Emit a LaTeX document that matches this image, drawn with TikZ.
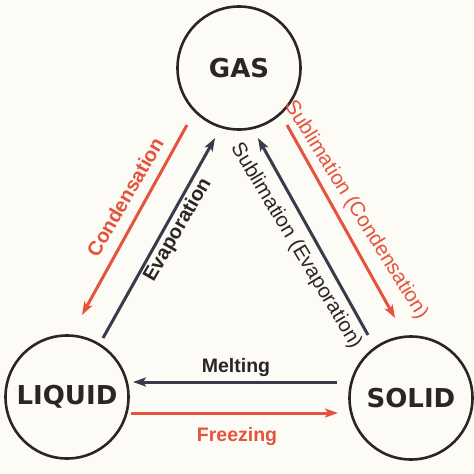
\documentclass[tikz,border=0pt]{standalone}
\usepackage{fontspec}
\setmainfont{Liberation Sans}
\newfontfamily\statefont{DejaVu Sans}
\usetikzlibrary{arrows.meta}
\definecolor{redarrow}{HTML}{E5533C}
\definecolor{darkarrow}{HTML}{3A3A48}
\definecolor{ink}{HTML}{2B2626}
\definecolor{paper}{HTML}{FCFBF6}
\begin{document}
\begin{tikzpicture}[x=1pt,y=-1pt,
  state/.style={circle, draw=ink, line width=2.6pt, minimum size=123pt, inner sep=0pt,
    font=\statefont\bfseries\fontsize{26}{30}\selectfont, text=ink},
  redarr/.style={draw=redarrow, line width=3pt, -{Stealth[length=13pt,width=9pt,inset=3pt]}},
  darkarr/.style={draw=darkarrow, line width=3pt, -{Stealth[length=13pt,width=9pt,inset=3pt]}},
  lbl/.style={font=\fontsize{20.5}{24}\selectfont, inner sep=0pt},
  lblmid/.style={font=\bfseries\fontsize{20}{24}\selectfont, inner sep=0pt},
  lblbold/.style={font=\bfseries\fontsize{19.5}{23}\selectfont, inner sep=0pt},
]
\fill[paper] (0,0) rectangle (474,474);
\useasboundingbox (0,0) rectangle (474,474);

\node[state] (gas) at (239,68) {GAS};
\node[state] (liquid) at (67,397) {LIQUID};
\node[state] (solid) at (411,398) {SOLID};

\coordinate (evapS) at (103,338);
\coordinate (evapE) at (215,138);
\coordinate (condS) at (187,125);
\coordinate (condE) at (82,315);
\coordinate (subES) at (368,335);
\coordinate (subEE) at (258,138);
\coordinate (subCS) at (287,125);
\coordinate (subCE) at (395,318);
\coordinate (meltS) at (337,382);
\coordinate (meltE) at (133,382);
\coordinate (frzS) at (131,413);
\coordinate (frzE) at (338,413);

\draw[darkarr] (evapS) -- (evapE);
\draw[redarr] (condS) -- (condE);
\draw[darkarr] (subES) -- (subEE);
\draw[redarr] (subCS) -- (subCE);
\draw[darkarr] (meltS) -- (meltE);
\draw[redarr] (frzS) -- (frzE);

\node[lblmid, text=redarrow, rotate=60] (condlbl) at (125,197) {Condensation};
\node[lblmid, text=ink, rotate=60] (evaplbl) at (178,230) {Evaporation};
\node[lbl, text=ink, rotate=-59] (sublbl1) at (296,246) {Sublimation (Evaporation)};
\node[lbl, text=redarrow, rotate=-58] (sublbl2) at (356,210) {Sublimation (Condensation)};
\node[lblbold, text=ink] (meltlbl) at (236,367) {Melting};
\node[lblbold, text=redarrow] (frzlbl) at (237,436) {Freezing};
\end{tikzpicture}
\end{document}
